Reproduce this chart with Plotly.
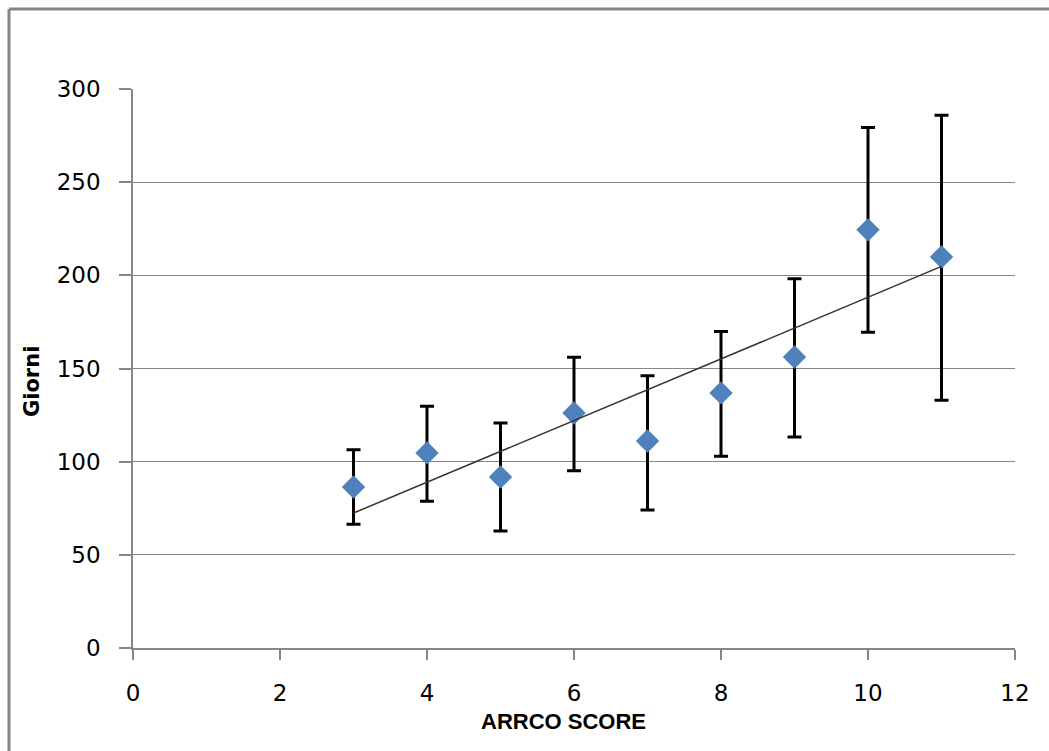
import numpy as np
import plotly.graph_objects as go

# Data
score = [3, 4, 5, 6, 7, 8, 9, 10, 11]
giorni = [86.4, 104.7, 91.8, 126.1, 111.1, 136.9, 156.2, 224.4, 209.9]
err_plus = [20, 25, 29, 30, 35, 33, 42, 55, 76]
err_minus = [20, 26, 29, 31, 37, 34, 43, 55, 77]
x_ticks = [0, 2, 4, 6, 8, 10, 12]
y_ticks = [0, 50, 100, 150, 200, 250, 300]

# Linear trendline (least squares on the means)
slope, intercept = np.polyfit(score, giorni, 1)
trend_x = [min(score), max(score)]
trend_y = [slope * v + intercept for v in trend_x]

GRID = "#868686"
fig = go.Figure()

fig.add_trace(go.Scatter(
    x=score, y=giorni, mode="markers",
    marker=dict(symbol="diamond", size=18, color="#4F81BD"),
    error_y=dict(type="data", symmetric=False, array=err_plus, arrayminus=err_minus,
                 color="black", thickness=3, width=7),
    showlegend=False,
))
fig.add_trace(go.Scatter(
    x=trend_x, y=trend_y, mode="lines",
    line=dict(color="#333333", width=1.5),
    showlegend=False,
))

fig.update_layout(
    width=1049, height=751,
    margin=dict(l=133, r=34, t=89, b=103),
    paper_bgcolor="white", plot_bgcolor="white",
    font=dict(family="DejaVu Sans", size=23, color="black"),
    xaxis=dict(range=[0, 12], tickvals=x_ticks, showgrid=False, zeroline=False,
               showline=True, linecolor=GRID, linewidth=1.5,
               ticks="outside", ticklen=10, tickcolor=GRID, tickwidth=1.5,
               ticklabelstandoff=14),
    yaxis=dict(range=[0, 300], tickvals=y_ticks, showgrid=True, gridcolor=GRID, gridwidth=1,
               zeroline=False, showline=True, linecolor=GRID, linewidth=1.5,
               ticks="outside", ticklen=12, tickcolor=GRID, tickwidth=1.5,
               ticklabelstandoff=14),
    shapes=[
        dict(type="line", xref="paper", yref="paper",
             x0=(9 - 133) / 882, x1=(1060 - 133) / 882,
             y0=(648 - 9) / 559, y1=(648 - 9) / 559,
             line=dict(color=GRID, width=3)),
        dict(type="line", xref="paper", yref="paper",
             x0=(9 - 133) / 882, x1=(9 - 133) / 882,
             y0=(648 - 9) / 559, y1=(648 - 760) / 559,
             line=dict(color=GRID, width=3)),
    ],
    annotations=[
        dict(text="<b>ARRCO SCORE</b>", xref="paper", yref="paper",
             x=(563 - 133) / 882, y=(648 - 721) / 559, showarrow=False,
             xanchor="center", yanchor="middle",
             font=dict(family="Liberation Sans Narrow, Liberation Sans", size=22)),
        dict(text="<b>Giorni</b>", xref="paper", yref="paper",
             x=(32 - 133) / 882, y=(648 - 382) / 559, showarrow=False, textangle=-90,
             xanchor="center", yanchor="middle",
             font=dict(family="DejaVu Sans", size=21)),
    ],
)

fig.write_html("out.html")
